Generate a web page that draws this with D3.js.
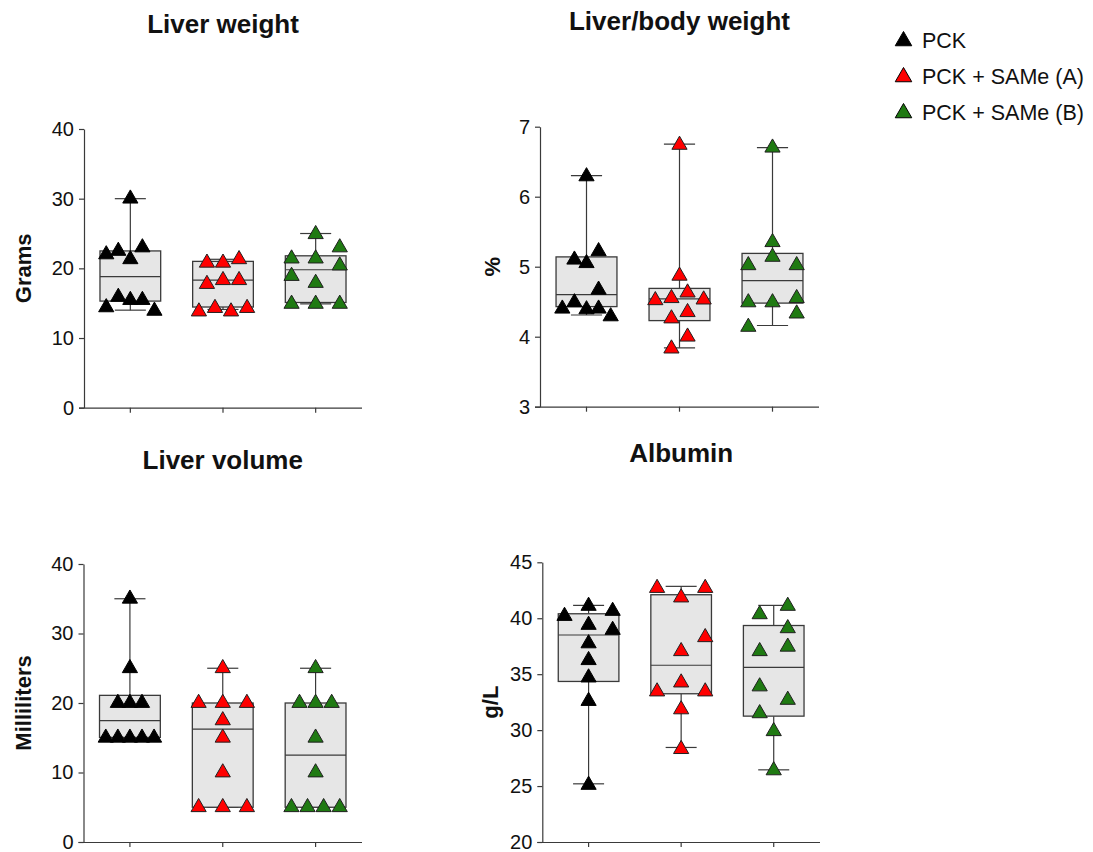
<!DOCTYPE html>
<html>
<head>
<meta charset="utf-8">
<script src="https://cdn.jsdelivr.net/npm/d3@7"></script>
<style>
  html, body { margin: 0; padding: 0; background: #ffffff; }
  svg { display: block; }
  text { font-family: "Liberation Sans", Arial, sans-serif; fill: #111; }
</style>
</head>
<body>
<svg id="chart" width="1093" height="852"></svg>
<script>
// ---------------- DATA ----------------
const groups = ["PCK", "PCK + SAMe (A)", "PCK + SAMe (B)"];

// Liver weight (Grams)
const liverWeightValues = [
  [22.0, 22.5, 21.3, 23.0, 30.0, 15.9, 15.45, 15.45, 14.4, 13.9],
  [20.8, 20.8, 21.3, 17.75, 18.3, 18.3, 13.8, 14.3, 13.8, 14.3],
  [21.4, 21.4, 23.0, 24.9, 18.9, 17.9, 20.4, 14.9, 14.9, 14.9]
];
const liverWeightSlots = [
  [-6, -3, 0, 3, 0, -3, 0, 3, -6, 6],
  [-4, 0, 4, -4, 0, 4, -6, -2, 2, 6],
  [-6, 0, 6, 0, -6, 0, 6, -6, 0, 6]
];
// [whisker low, Q1, median, Q3, whisker high]
const liverWeightBoxes = [
  [14.0, 15.3, 18.8, 22.5, 30.0],
  [14.1, 14.45, 18.3, 21.0, 21.3],
  [14.9, 15.1, 19.8, 21.8, 25.0]
];
const liverWeightTicks = [0, 10, 20, 30, 40];

// Liver/body weight (%)
const liverBodyValues = [
  [5.10, 5.05, 5.22, 4.67, 4.40, 4.49, 4.39, 4.40, 4.29, 6.29],
  [6.74, 4.87, 4.52, 4.55, 4.63, 4.53, 4.26, 4.35, 4.00, 3.83],
  [6.70, 5.35, 5.14, 5.02, 5.02, 4.49, 4.49, 4.55, 4.33, 4.14]
];
const liverBodySlots = [
  [-3, 0, 3, 3, -6, -3, 0, 3, 6, 0],
  [0, 0, -6, -2, 2, 6, -2, 2, 2, -2],
  [0, 0, 0, -6, 6, -6, 0, 6, 6, -6]
];
const liverBodyBoxes = [
  [4.31, 4.43, 4.60, 5.14, 6.30],
  [3.84, 4.23, 4.54, 4.69, 6.75],
  [4.16, 4.48, 4.80, 5.19, 6.70]
];
const liverBodyTicks = [3, 4, 5, 6, 7];

// Liver volume (Milliliters)
const liverVolumeValues = [
  [35, 25, 20, 20, 20, 15, 15, 15, 15, 15],
  [25, 20, 20, 20, 17.5, 15, 10, 5, 5, 5],
  [25, 20, 20, 20, 15, 10, 5, 5, 5, 5]
];
const liverVolumeSlots = [
  [0, 0, -3, 0, 3, -6, -3, 0, 3, 6],
  [0, -6, 0, 6, 0, 0, 0, -6, 0, 6],
  [0, -4, 0, 4, 0, 0, -6, -2, 2, 6]
];
const liverVolumeBoxes = [
  [15, 15.05, 17.45, 21.1, 35],
  [5, 5, 16.25, 20, 25],
  [5, 5, 12.5, 20, 25]
];
const liverVolumeTicks = [0, 10, 20, 30, 40];

// Albumin (g/L)
const albuminValues = [
  [40.2, 41.1, 40.65, 39.4, 38.95, 37.75, 36.25, 34.7, 32.6, 25.1],
  [42.7, 42.7, 41.85, 38.3, 37.05, 34.25, 33.45, 33.45, 31.85, 28.3],
  [40.35, 41.1, 39.1, 37.45, 37.05, 33.9, 32.7, 31.5, 29.9, 26.4]
];
const albuminSlots = [
  [-6, 0, 6, 0, 6, 0, 0, 0, 0, 0],
  [-6, 6, 0, 6, 0, 0, -6, 6, 0, 0],
  [-3.5, 3.5, 3.5, 3.5, -3.5, -3.5, 3.5, -3.5, 0, 0]
];
const albuminBoxes = [
  [25.2, 34.35, 38.5, 40.4, 41.15],
  [28.45, 33.25, 35.8, 42.1, 42.85],
  [26.45, 31.25, 35.6, 39.35, 41.15]
];
const albuminTicks = [20, 25, 30, 35, 40, 45];

// ---------------- STYLE / LAYOUT ----------------
const groupColors = ["#000000", "#ff0000", "#1f7a12"];
const boxFill = "#e6e6e6";
const lineColor = "#3a3a3a";

const panels = [
  { title: "Liver weight", ylabel: "Grams", values: liverWeightValues, slots: liverWeightSlots,
    boxes: liverWeightBoxes, ticks: liverWeightTicks, domain: [0, 40],
    x0: 84, x1: 362, yTop: 129, yBot: 407.7, titleY: 33, labelX: 31 },
  { title: "Liver/body weight", ylabel: "%", values: liverBodyValues, slots: liverBodySlots,
    boxes: liverBodyBoxes, ticks: liverBodyTicks, domain: [3, 7],
    x0: 540, x1: 819, yTop: 126.7, yBot: 406.7, titleY: 30, labelX: 500 },
  { title: "Liver volume", ylabel: "Milliliters", values: liverVolumeValues, slots: liverVolumeSlots,
    boxes: liverVolumeBoxes, ticks: liverVolumeTicks, domain: [0, 40],
    x0: 83.5, x1: 362, yTop: 564, yBot: 842, titleY: 469, labelX: 31 },
  { title: "Albumin", ylabel: "g/L", values: albuminValues, slots: albuminSlots,
    boxes: albuminBoxes, ticks: albuminTicks, domain: [20, 45],
    x0: 542.3, x1: 820, yTop: 562.3, yBot: 842, titleY: 462, labelX: 498 }
];

const svg = d3.select("#chart");
const triangle = d3.symbol().type(d3.symbolTriangle).size(100);

panels.forEach(p => {
  const g = svg.append("g");
  const x = d3.scaleBand().domain(groups).range([p.x0, p.x1]).paddingInner(0).paddingOuter(0);
  const y = d3.scaleLinear().domain(p.domain).range([p.yBot, p.yTop]);
  const bw = x.bandwidth();
  const boxW = bw * 0.655;
  const capW = bw * 0.335;
  const jitter = d3.scaleLinear().domain([-6, 6]).range([-bw * 0.26, bw * 0.26]);

  // title
  g.append("text")
    .attr("x", (p.x0 + p.x1) / 2)
    .attr("y", p.titleY)
    .attr("text-anchor", "middle")
    .style("font-size", "26px")
    .style("font-weight", "bold")
    .text(p.title);

  // y label
  g.append("text")
    .attr("transform", `translate(${p.labelX},${(p.yTop + p.yBot) / 2}) rotate(-90)`)
    .attr("text-anchor", "middle")
    .style("font-size", "22px")
    .style("font-weight", "bold")
    .text(p.ylabel);

  // y axis
  const yAxis = g.append("g")
    .attr("transform", `translate(${p.x0},0)`)
    .call(d3.axisLeft(y).tickValues(p.ticks).tickFormat(d3.format("d")).tickSize(5).tickSizeOuter(0).tickPadding(5));
  yAxis.select(".domain").attr("stroke", lineColor).attr("stroke-width", 1.2);
  yAxis.selectAll(".tick line").attr("stroke", lineColor).attr("stroke-width", 1.2);
  yAxis.selectAll(".tick text").style("font-size", "20px").style("font-family", "'Liberation Sans', Arial, sans-serif").attr("fill", "#1a1a1a");

  // x axis
  const xAxis = g.append("g")
    .attr("transform", `translate(0,${p.yBot})`)
    .call(d3.axisBottom(x).tickFormat("").tickSize(5).tickSizeOuter(0));
  xAxis.select(".domain")
    .attr("d", `M${p.x0 - 5},0.5H${p.x1}`)
    .attr("stroke", lineColor).attr("stroke-width", 1.2);
  xAxis.selectAll(".tick line").attr("stroke", lineColor).attr("stroke-width", 1.2);

  // boxes
  groups.forEach((grp, i) => {
    const [lo, q1, med, q3, hi] = p.boxes[i];
    const cx = x(grp) + bw / 2;
    const bg = g.append("g");
    bg.append("line").attr("x1", cx).attr("x2", cx).attr("y1", y(q3)).attr("y2", y(hi))
      .attr("stroke", lineColor).attr("stroke-width", 1.2);
    bg.append("line").attr("x1", cx).attr("x2", cx).attr("y1", y(q1)).attr("y2", y(lo))
      .attr("stroke", lineColor).attr("stroke-width", 1.2);
    bg.append("line").attr("x1", cx - capW / 2).attr("x2", cx + capW / 2).attr("y1", y(hi)).attr("y2", y(hi))
      .attr("stroke", lineColor).attr("stroke-width", 1.2);
    bg.append("line").attr("x1", cx - capW / 2).attr("x2", cx + capW / 2).attr("y1", y(lo)).attr("y2", y(lo))
      .attr("stroke", lineColor).attr("stroke-width", 1.2);
    bg.append("rect").attr("x", cx - boxW / 2).attr("width", boxW)
      .attr("y", y(q3)).attr("height", y(q1) - y(q3))
      .attr("fill", boxFill).attr("stroke", lineColor).attr("stroke-width", 1.3);
    bg.append("line").attr("x1", cx - boxW / 2).attr("x2", cx + boxW / 2).attr("y1", y(med)).attr("y2", y(med))
      .attr("stroke", lineColor).attr("stroke-width", 1.2);
  });

  // points
  groups.forEach((grp, i) => {
    const cx = x(grp) + bw / 2;
    const pts = p.values[i].map((v, k) => ({ v, s: p.slots[i][k] }));
    g.append("g").selectAll("path").data(pts).join("path")
      .attr("d", triangle)
      .attr("transform", d => `translate(${cx + jitter(d.s)},${y(d.v)})`)
      .attr("fill", groupColors[i])
      .attr("stroke", i === 0 ? "#000" : "#202020")
      .attr("stroke-width", 1);
  });
});

// legend
const legendRows = [40, 76, 112];
const legendSym = d3.symbol().type(d3.symbolTriangle).size(118);
const legend = svg.append("g");
groups.forEach((grp, i) => {
  legend.append("path")
    .attr("d", legendSym)
    .attr("transform", `translate(903.5,${legendRows[i] + 1})`)
    .attr("fill", groupColors[i])
    .attr("stroke", "#000").attr("stroke-width", 1);
  legend.append("text")
    .attr("x", 922)
    .attr("y", legendRows[i] + 7.5)
    .style("font-size", "21.5px")
    .text(grp);
});
</script>
</body>
</html>
